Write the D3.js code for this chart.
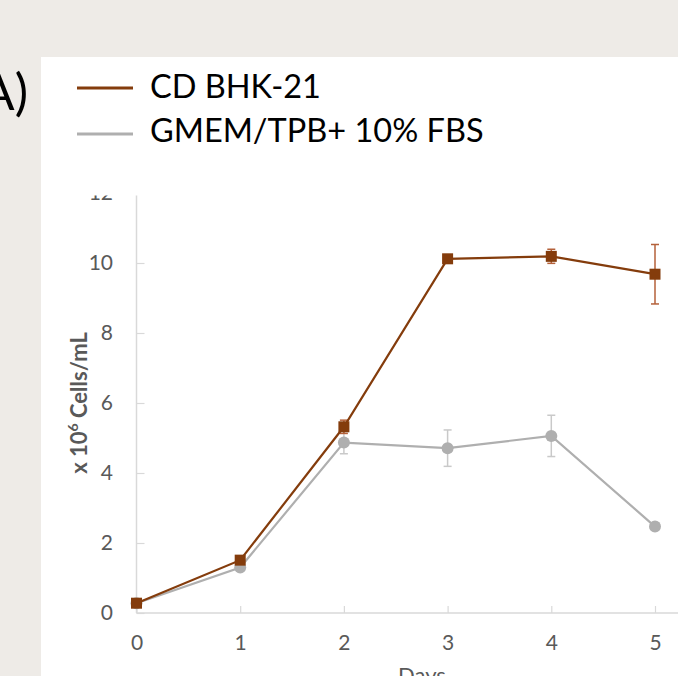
<!DOCTYPE html>
<html><head><meta charset="utf-8">
<script src="https://cdn.jsdelivr.net/npm/d3@7"></script>
<style>body{margin:0;background:#EEEBE7;}svg{display:block;}</style>
</head><body>
<script>
const days = [0, 1, 2, 3, 4, 5];
const cdBHK = [0.28, 1.51, 5.32, 10.12, 10.19, 9.68];
const cdBHKErr = [0.03, 0.05, 0.19, 0.04, 0.2, 0.85];
const gmem = [0.28, 1.3, 4.87, 4.71, 5.06, 2.47];
const gmemErr = [0.03, 0.04, 0.32, 0.52, 0.59, 0.1];
const yTicks = [0, 2, 4, 6, 8, 10, 12];
const seriesNames = ["CD BHK-21", "GMEM/TPB+ 10% FBS"];

const W = 678, H = 676;
const brown = "#843C0C", grey = "#AFAFAF";
const svg = d3.select("body").append("svg").attr("width", W).attr("height", H);
svg.append("rect").attr("width", W).attr("height", H).attr("fill", "#EEEBE7");
svg.append("rect").attr("x", 41).attr("y", 57).attr("width", W - 41).attr("height", H - 57).attr("fill", "#fff");

svg.append("text").attr("x", 28).attr("y", 110).attr("text-anchor", "end")
  .attr("font-family", "Lato, sans-serif").attr("font-size", 50).attr("fill", "#000").text("A)");

// legend
const leg = svg.append("g");
[[brown, 88, 98], [grey, 134, 142]].forEach((d, i) => {
  leg.append("line").attr("x1", 77).attr("x2", 133).attr("y1", d[1]).attr("y2", d[1])
    .attr("stroke", d[0]).attr("stroke-width", 3);
  leg.append("text").attr("x", 150).attr("y", d[2]).attr("font-family", "Lato, sans-serif")
    .attr("font-size", 32.5).attr("fill", "#000").text(seriesNames[i]);
});

const x = d3.scaleLinear().domain([0, 5]).range([136.5, 655]);
const y = d3.scaleLinear().domain([0, 12]).range([613, 193]);

svg.append("defs").append("clipPath").attr("id", "clip")
  .append("rect").attr("x", 41).attr("y", 195.5).attr("width", W).attr("height", H);
const g = svg.append("g").attr("clip-path", "url(#clip)");

// y axis
const ya = g.append("g").attr("transform", `translate(${x(0)},0)`)
  .call(d3.axisRight(y).tickValues(yTicks).tickSize(8).tickFormat(d3.format("d")));
ya.select(".domain").attr("stroke", "#D9D9D9").attr("stroke-width", 1.5).attr("d", `M0,${y(12)}V${y(0)}`);
ya.selectAll(".tick line").attr("stroke", "#D9D9D9").attr("stroke-width", 1.2);
ya.selectAll(".tick text").attr("x", -23.5).attr("text-anchor", "end").attr("fill", "#595959")
  .attr("font-family", "Lato, sans-serif").attr("font-size", 21);

// x axis
const xa = g.append("g").attr("transform", `translate(0,${y(0)})`)
  .call(d3.axisTop(x).tickValues(days).tickSize(7).tickFormat(d3.format("d")));
xa.select(".domain").attr("stroke", "#D9D9D9").attr("stroke-width", 1.5).attr("d", `M${x(0)},0H${W}`);
xa.selectAll(".tick line").attr("stroke", "#D9D9D9").attr("stroke-width", 1.2);
xa.selectAll(".tick text").attr("y", 30).attr("dy", "0.35em").attr("fill", "#595959")
  .attr("font-family", "Lato, sans-serif").attr("font-size", 21);

g.append("text").attr("x", 422).attr("y", 683).attr("text-anchor", "middle")
  .attr("font-family", "Lato, sans-serif").attr("font-size", 22).attr("fill", "#595959").text("Days");

const yl = g.append("text").attr("transform", "translate(87,403) rotate(-90)").attr("text-anchor", "middle")
  .attr("font-family", "Lato, sans-serif").attr("font-size", 22).attr("font-weight", "bold").attr("fill", "#595959");
yl.append("tspan").text("x 10");
yl.append("tspan").attr("dy", -9).attr("font-size", 14).text("6");
yl.append("tspan").attr("dy", 9).text(" Cells/mL");

const line = d3.line().x((d, i) => x(days[i])).y(d => y(d));
function drawSeries(vals, errs, color, errColor, shape) {
  const s = g.append("g");
  s.selectAll(".err").data(vals).join("g").each(function(v, i) {
    const e = d3.select(this), cx = x(days[i]);
    e.append("line").attr("x1", cx).attr("x2", cx).attr("y1", y(v - errs[i])).attr("y2", y(v + errs[i]))
      .attr("stroke", errColor).attr("stroke-width", 1.5);
    [v - errs[i], v + errs[i]].forEach(t => e.append("line").attr("x1", cx - 4).attr("x2", cx + 4)
      .attr("y1", y(t)).attr("y2", y(t)).attr("stroke", errColor).attr("stroke-width", 1.5));
  });
  s.append("path").attr("d", line(vals)).attr("fill", "none").attr("stroke", color).attr("stroke-width", 2.2);
  if (shape === "square") {
    s.selectAll("rect").data(vals).join("rect").attr("x", (d, i) => x(days[i]) - 5.5).attr("y", d => y(d) - 5.5)
      .attr("width", 11).attr("height", 11).attr("fill", color);
  } else {
    s.selectAll("circle").data(vals).join("circle").attr("cx", (d, i) => x(days[i])).attr("cy", d => y(d))
      .attr("r", 6).attr("fill", color);
  }
}
drawSeries(gmem, gmemErr, grey, "#C9C9C9", "circle");
drawSeries(cdBHK, cdBHKErr, brown, "#B4613A", "square");
</script>
</body></html>
